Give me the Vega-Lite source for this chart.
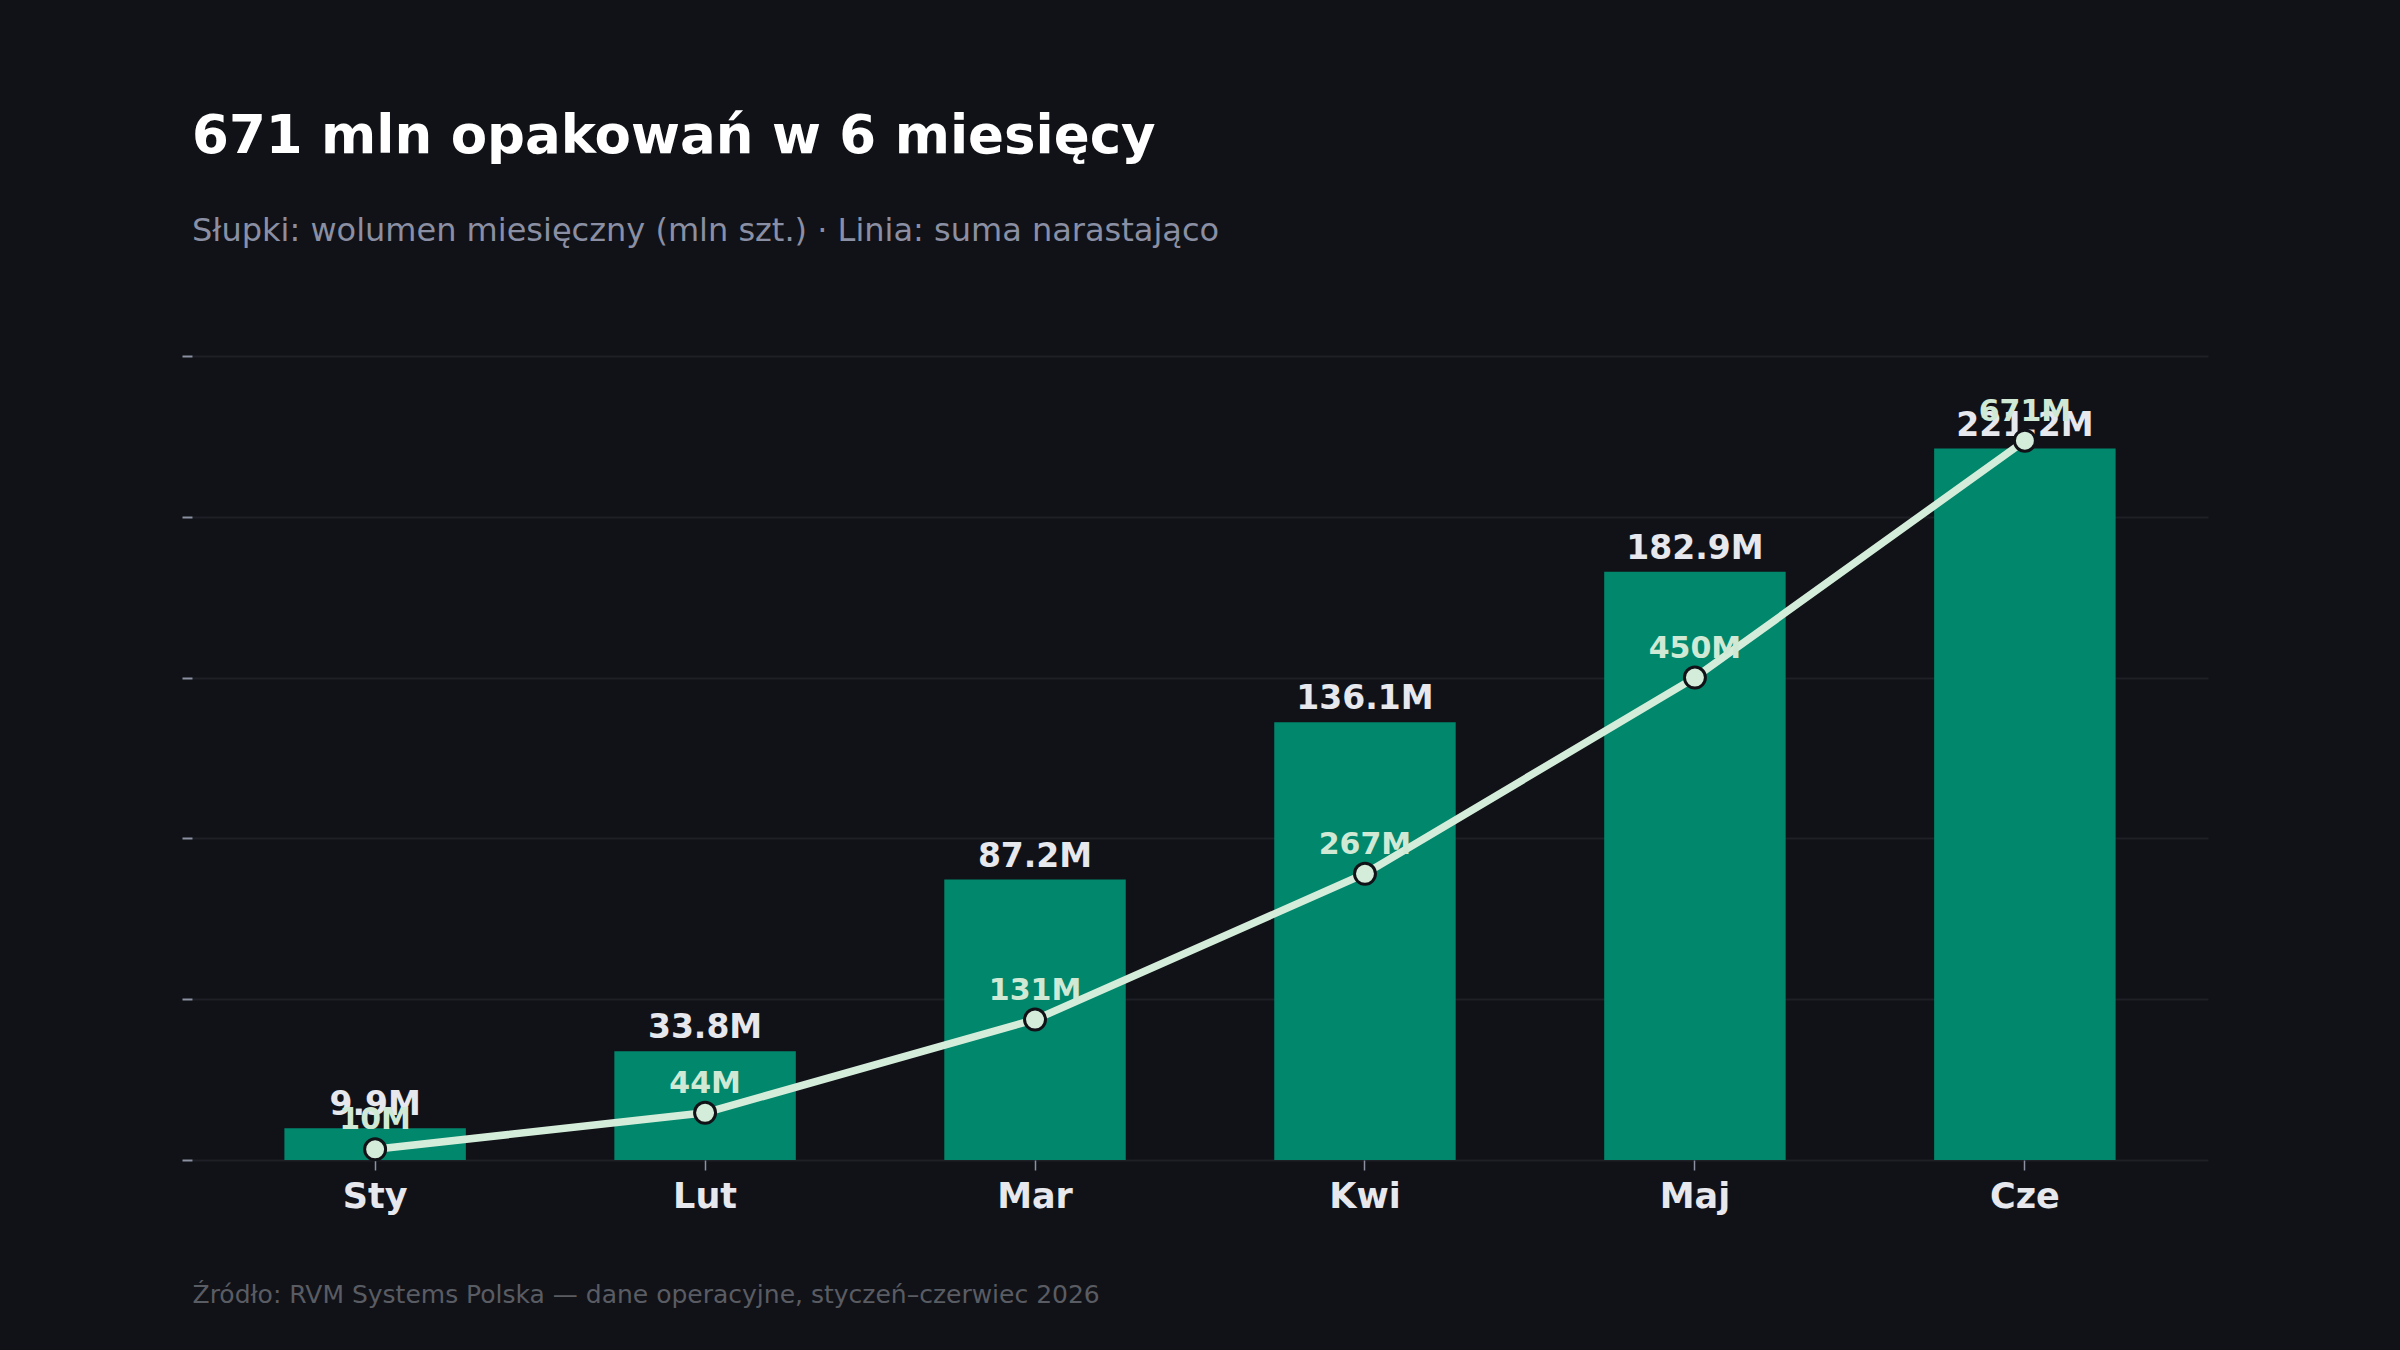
{
  "$schema": "https://vega.github.io/schema/vega-lite/v6.json",
  "width": 2016,
  "height": 804,
  "autosize": {"type": "none"},
  "padding": {"left": 192, "top": 356, "right": 192, "bottom": 190},
  "background": "#111217",
  "config": {
    "view": {"stroke": null},
    "font": "DejaVu Sans"
  },
  "title": {
    "text": "671 mln opakowań w 6 miesięcy",
    "subtitle": "Słupki: wolumen miesięczny (mln szt.) · Linia: suma narastająco",
    "anchor": "start",
    "frame": "group",
    "offset": 108,
    "subtitlePadding": 52,
    "font": "DejaVu Sans",
    "fontSize": 53,
    "fontWeight": "bold",
    "color": "#ffffff",
    "subtitleFont": "DejaVu Sans",
    "subtitleFontSize": 32,
    "subtitleFontWeight": "normal",
    "subtitleColor": "#8a8fa3"
  },
  "data": {
    "values": [
      {"month": "Sty", "vol": 9.9, "volLabel": "9.9M", "cum": 10, "cumLabel": "10M"},
      {"month": "Lut", "vol": 33.8, "volLabel": "33.8M", "cum": 44, "cumLabel": "44M"},
      {"month": "Mar", "vol": 87.2, "volLabel": "87.2M", "cum": 131, "cumLabel": "131M"},
      {"month": "Kwi", "vol": 136.1, "volLabel": "136.1M", "cum": 267, "cumLabel": "267M"},
      {"month": "Maj", "vol": 182.9, "volLabel": "182.9M", "cum": 450, "cumLabel": "450M"},
      {"month": "Cze", "vol": 221.2, "volLabel": "221.2M", "cum": 671, "cumLabel": "671M"}
    ]
  },
  "encoding": {
    "x": {
      "field": "month",
      "type": "nominal",
      "sort": null,
      "scale": {"paddingInner": 0.45, "paddingOuter": 0.28},
      "axis": {
        "title": "Źródło: RVM Systems Polska — dane operacyjne, styczeń–czerwiec 2026",
        "titleFont": "DejaVu Sans",
        "titleFontSize": 25,
        "titleFontWeight": "normal",
        "titleColor": "#5a5c63",
        "titleAnchor": "start",
        "titleAlign": "left",
        "titleX": 0,
        "titleY": 142,
        "titleBaseline": "alphabetic",
        "labelAngle": 0,
        "labelFont": "DejaVu Sans",
        "labelFontSize": 35,
        "labelFontWeight": "bold",
        "labelColor": "#e6e8ee",
        "labelPadding": 9,
        "tickColor": "#8b90a3",
        "tickSize": 10,
        "tickWidth": 1.5,
        "domain": false,
        "grid": false
      }
    }
  },
  "layer": [
    {
      "encoding": {
        "y": {
          "field": "vol",
          "type": "quantitative",
          "scale": {"domain": [0, 250], "nice": false},
          "axis": {
            "orient": "left",
            "title": null,
            "values": [0, 50, 100, 150, 200, 250],
            "labels": false,
            "domain": false,
            "ticks": true,
            "tickSize": 10,
            "tickWidth": 2,
            "tickColor": "#8b90a3",
            "grid": true,
            "gridColor": "#1e1f27",
            "gridWidth": 2
          }
        }
      },
      "layer": [
        {"mark": {"type": "bar", "color": "#00876c"}},
        {
          "mark": {
            "type": "text",
            "dy": -13,
            "baseline": "alphabetic",
            "align": "center",
            "fontSize": 33,
            "fontWeight": "bold",
            "color": "#e6e8ee"
          },
          "encoding": {"text": {"field": "volLabel"}}
        }
      ]
    },
    {
      "encoding": {
        "y": {
          "field": "cum",
          "type": "quantitative",
          "scale": {"domain": [0, 750], "nice": false},
          "axis": null
        }
      },
      "layer": [
        {"mark": {"type": "line", "color": "#d4edda", "strokeWidth": 7.5}},
        {
          "mark": {
            "type": "point",
            "shape": "circle",
            "filled": true,
            "size": 440,
            "fill": "#d4edda",
            "stroke": "#111217",
            "strokeWidth": 3,
            "opacity": 1
          }
        },
        {
          "mark": {
            "type": "text",
            "dy": -20,
            "baseline": "alphabetic",
            "align": "center",
            "fontSize": 30,
            "fontWeight": "bold",
            "color": "#d0e9d5"
          },
          "encoding": {"text": {"field": "cumLabel"}}
        }
      ]
    }
  ],
  "resolve": {"scale": {"y": "independent"}, "axis": {"y": "independent"}}
}
